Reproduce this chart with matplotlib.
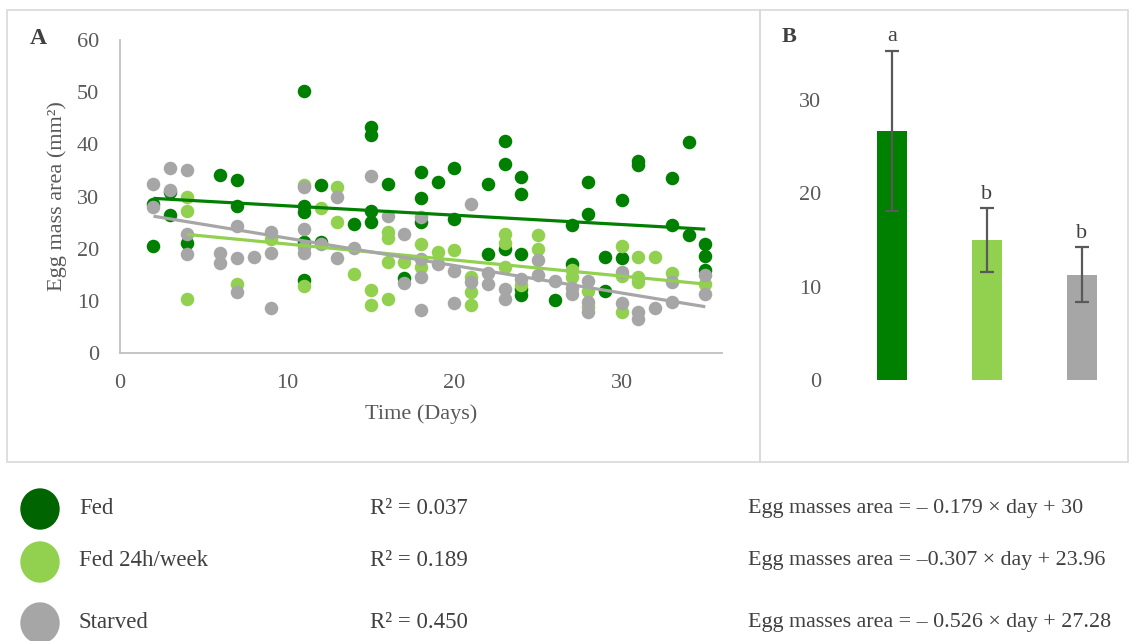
import matplotlib
matplotlib.use('Agg')
import matplotlib.pyplot as plt
from matplotlib.patches import Rectangle, Ellipse

plt.rcParams['font.family'] = ['Liberation Serif', 'DejaVu Serif']

W, H = 1132, 641

# scatter data: day of laying and egg mass area (mm2)
fed_days = [2, 2, 3, 3, 4, 6, 7, 7, 11, 11, 11, 11, 11, 12, 12, 14, 15, 15, 15, 15, 16, 17,
            18, 18, 18, 19, 20, 20, 22, 22, 23, 23, 23, 24, 24, 24, 24, 24, 26, 27, 27, 28, 28,
            29, 29, 30, 30, 31, 31, 33, 33, 34, 34, 35, 35, 35]
fed_area = [28.5, 20.6, 30.8, 26.5, 21.0, 34.2, 33.1, 28.1, 50.2, 28.1, 27.0, 21.2, 14.0, 32.2, 21.2,
            24.7, 43.4, 41.7, 27.2, 25.1, 32.4, 14.3, 34.7, 29.7, 25.1, 32.8, 35.5, 25.7, 32.4, 18.9,
            40.6, 36.3, 19.9, 33.7, 30.5, 18.9, 12.2, 11.2, 10.1, 24.5, 17.0, 32.8, 26.7, 18.4, 11.9,
            29.4, 18.3, 36.9, 36.1, 33.6, 24.5, 40.4, 22.6, 20.8, 18.5, 16.0]

week_days = [4, 4, 4, 7, 9, 11, 11, 12, 13, 13, 14, 15, 15, 16, 16, 16, 16, 17, 18, 18, 19, 20,
             21, 21, 21, 23, 23, 23, 24, 25, 25, 27, 27, 28, 28, 30, 30, 30, 31, 31, 31, 32, 33, 35]
week_area = [30.0, 27.2, 10.3, 13.3, 21.9, 32.2, 12.8, 27.7, 31.9, 25.1, 15.2, 12.0, 9.2, 23.2, 22.1,
             17.5, 10.3, 17.5, 20.8, 16.5, 19.4, 19.7, 14.6, 11.6, 9.2, 22.8, 21.0, 16.5, 13.0, 22.6,
             20.0, 15.9, 14.6, 11.9, 8.9, 20.6, 14.7, 7.9, 18.4, 14.6, 13.6, 18.4, 15.4, 13.3]

starv_days = [2, 2, 3, 3, 4, 4, 4, 6, 6, 7, 7, 7, 8, 9, 9, 9, 11, 11, 11, 11, 12, 13, 13, 14, 15,
              16, 17, 17, 18, 18, 18, 18, 19, 20, 20, 21, 21, 22, 22, 23, 23, 24, 25, 25, 26, 27,
              27, 28, 28, 28, 30, 30, 31, 31, 32, 33, 33, 35, 35]
starv_area = [32.4, 28.0, 35.4, 31.2, 35.1, 22.8, 18.9, 19.1, 17.3, 24.3, 18.2, 11.7, 18.4, 23.1, 19.1,
              8.7, 31.8, 23.7, 20.3, 19.2, 20.8, 29.9, 18.2, 20.2, 34.0, 26.2, 22.9, 13.5, 26.1, 18.1,
              14.6, 8.2, 17.1, 15.7, 9.6, 28.6, 13.6, 15.4, 13.2, 12.2, 10.3, 14.1, 17.8, 14.9, 13.8,
              12.4, 11.4, 13.8, 9.8, 7.9, 15.6, 9.5, 7.9, 6.6, 8.7, 13.6, 9.7, 14.9, 11.4]

# fitted lines (slope, intercept, first day, last day)
fed_fit = (-0.179, 30.0, 2, 35)
week_fit = (-0.307, 23.96, 4, 35)
starv_fit = (-0.526, 27.28, 2, 35)

groups = ['Fed', 'Fed 24h/week', 'Starved']
r2_labels = ['R² = 0.037', 'R² = 0.189', 'R² = 0.450']
eq_labels = ['Egg masses area = – 0.179 × day + 30',
             'Egg masses area = –0.307 × day + 23.96',
             'Egg masses area = – 0.526 × day + 27.28']

# mean egg mass area per group with error
bar_means = [26.7, 15.0, 11.3]
bar_errs = [8.6, 3.4, 2.95]
bar_letters = ['a', 'b', 'b']

c_fed = '#008000'
c_week = '#92D050'
c_starv = '#A6A6A6'
c_text = '#595959'


def fig_box(x0, y0, x1, y1):
    # pixel box (top-left origin) -> figure fraction rect
    return [x0 / W, 1 - y1 / H, (x1 - x0) / W, (y1 - y0) / H]


fig = plt.figure(figsize=(W / 100, H / 100), dpi=100)

# panel frames
for x0, x1 in [(7, 760), (760, 1128)]:
    fig.patches.append(Rectangle((x0 / W, 1 - 462 / H), (x1 - x0) / W, 452 / H,
                                 transform=fig.transFigure, fill=False,
                                 edgecolor='#d9d9d9', linewidth=1.2))

# ---- panel A: scatter with trend lines
ax = fig.add_axes(fig_box(120, 40, 722, 353))
for d, a, c in [(fed_days, fed_area, c_fed), (week_days, week_area, c_week),
                (starv_days, starv_area, c_starv)]:
    ax.scatter(d, a, s=95, color=c, linewidths=0, zorder=2)
for (m, b, d0, d1), c in [(fed_fit, c_fed), (week_fit, c_week), (starv_fit, c_starv)]:
    ax.plot([d0, d1], [m * d0 + b, m * d1 + b], color=c, linewidth=2.3, zorder=3,
            solid_capstyle='butt')
ax.set_xlim(0, 36)
ax.set_ylim(0, 60)
ax.set_xticks([0, 10, 20, 30])
ax.set_yticks(range(0, 61, 10))
ax.tick_params(length=0, labelsize=16, colors=c_text)
ax.tick_params(axis='x', pad=15)
ax.tick_params(axis='y', pad=15)
for s in ['top', 'right']:
    ax.spines[s].set_visible(False)
for s in ['left', 'bottom']:
    ax.spines[s].set_color('#bfbfbf')
    ax.spines[s].set_linewidth(1.3)
ax.set_xlabel('Time (Days)', fontsize=16, color=c_text, labelpad=8)
ax.set_ylabel('Egg mass area (mm²)', fontsize=16, color=c_text, labelpad=7)
fig.text(38 / W, 1 - 38 / H, 'A', fontsize=17, fontweight='bold', color='#404040',
         ha='center', va='center')

# ---- panel B: mean bars
bx = fig.add_axes(fig_box(844.5, 25.4, 1129.5, 380))
xs = range(len(bar_means))
bx.bar(xs, bar_means, width=0.316, color=[c_fed, c_week, c_starv])
bx.errorbar(xs, bar_means, yerr=bar_errs, fmt='none', ecolor=c_text, elinewidth=1.6,
            capsize=5, capthick=1.6)
for x, m, e, t in zip(xs, bar_means, bar_errs, bar_letters):
    bx.annotate(t, (x, m + e), xytext=(0, 10), textcoords='offset points',
                ha='center', va='center', fontsize=16, color='#404040')
bx.set_xlim(-0.5, 2.5)
bx.set_ylim(0, 38)
bx.set_yticks([0, 10, 20, 30])
bx.set_xticks([])
bx.tick_params(length=0, labelsize=16, colors=c_text, pad=17)
for s in bx.spines.values():
    s.set_visible(False)
fig.text(789 / W, 1 - 37 / H, 'B', fontsize=16, fontweight='bold', color='#404040',
         ha='center', va='center')

# ---- legend rows under the panels
row_y = [508, 561, 622]
dots = ['#006400', c_week, c_starv]
for y, g, r2, eq, c in zip(row_y, groups, r2_labels, eq_labels, dots):
    fig.patches.append(Ellipse((40 / W, 1 - (y + 1) / H), 38 / W, 40 / H,
                               transform=fig.transFigure, color=c))
    fig.text(79 / W, 1 - y / H, g, fontsize=16.5, color='#404040', va='center')
    fig.text(370 / W, 1 - y / H, r2, fontsize=16.5, color='#404040', va='center')
    fig.text(748 / W, 1 - y / H, eq, fontsize=15.8, color='#404040', va='center')

fig.savefig('out.png', dpi=100)
